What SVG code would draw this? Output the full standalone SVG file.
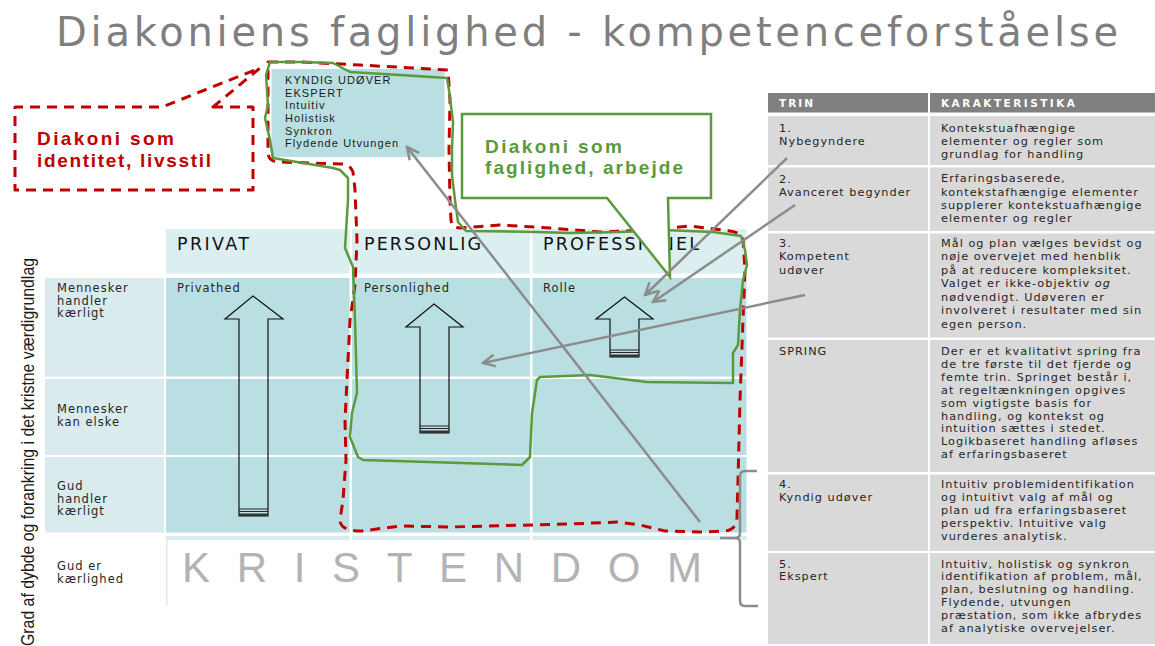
<svg xmlns="http://www.w3.org/2000/svg" width="1155" height="646" viewBox="0 0 1155 646">
<defs>
<marker id="ah" viewBox="-14 -8 16 16" refX="0" refY="0" markerWidth="16" markerHeight="16" markerUnits="userSpaceOnUse" orient="auto">
<path d="M -12,-6 L 0,0 L -12,6" fill="none" stroke="#8c8c8c" stroke-width="2.5"/>
</marker>
</defs>
<style>
.hd{fill:#dbeef0}
.bd{fill:#badfe2}
.lb{fill:#d9ebed}
.rl{font-family:"DejaVu Sans",Verdana,sans-serif;font-size:11.5px;letter-spacing:1px;fill:#262626}
.ch{font-family:"DejaVu Sans",Verdana,sans-serif;font-size:17.5px;fill:#111}
.tb{fill:#d9d9d9}
.tt{font-family:"DejaVu Sans",Verdana,sans-serif;font-size:11.3px;letter-spacing:1px;fill:#262626}
.th{font-family:"DejaVu Sans",Verdana,sans-serif;font-size:10.5px;font-weight:bold;fill:#fff}
.bx{font-family:"Liberation Sans",Arial,sans-serif;font-size:11px;letter-spacing:1.1px;fill:#1a1a1a}
.arr{fill:none;stroke:#111;stroke-width:1.2;stroke-linejoin:miter}
.stp{stroke:#222;stroke-width:1}
.red{fill:none;stroke:#c00000;stroke-width:3;stroke-dasharray:10 7;stroke-linejoin:round}
.grn{fill:none;stroke:#5a9a3c;stroke-width:2.5;stroke-linejoin:round;stroke-linecap:round}
.con{fill:none;stroke:#8c8c8c;stroke-width:2.5}
.rtx{font-family:"Liberation Sans",Arial,sans-serif;font-size:19px;font-weight:bold;fill:#c00000}
.gtx{font-family:"Liberation Sans",Arial,sans-serif;font-size:19px;font-weight:bold;fill:#5a9a3c}
</style>
<rect width="1155" height="646" fill="#fff"/>

<g id="title">
<text x="56" y="46" font-family="DejaVu Sans, Verdana, sans-serif" font-size="40" fill="#7f7f7f" textLength="1062" lengthAdjust="spacing">Diakoniens faglighed - kompetenceforståelse</text>
</g>

<g id="grid">
<rect class="hd" x="166" y="229" width="183.5" height="44.5"/>
<rect class="hd" x="352" y="229" width="178" height="44.5"/>
<rect class="hd" x="532.5" y="229" width="214" height="44.5"/>
<rect class="lb" x="45" y="278" width="119" height="98.5"/>
<rect class="lb" x="45" y="379" width="119" height="76"/>
<rect class="lb" x="45" y="457" width="119" height="75.5"/>
<rect class="bd" x="166" y="278" width="183.5" height="98.5"/>
<rect class="bd" x="352" y="278" width="178" height="98.5"/>
<rect class="bd" x="532.5" y="278" width="214" height="98.5"/>
<rect class="bd" x="166" y="379" width="183.5" height="76"/>
<rect class="bd" x="352" y="379" width="178" height="76"/>
<rect class="bd" x="532.5" y="379" width="214" height="76"/>
<rect class="bd" x="166" y="457" width="183.5" height="75.5"/>
<rect class="bd" x="352" y="457" width="178" height="75.5"/>
<rect class="bd" x="532.5" y="457" width="214" height="75.5"/>
<rect class="lb" x="166" y="536" width="183.5" height="4"/>
<rect class="lb" x="352" y="536" width="178" height="4"/>
<rect class="lb" x="532.5" y="536" width="214" height="4"/>
<rect class="lb" x="166" y="536" width="1.5" height="70"/>
</g>

<g id="headers">
<text class="ch" x="177" y="249.5" textLength="72" lengthAdjust="spacing">PRIVAT</text>
<text class="ch" x="364" y="249.5" textLength="117" lengthAdjust="spacing">PERSONLIG</text>
<text class="ch" x="543" y="249.5" textLength="156" lengthAdjust="spacing">PROFESSIONEL</text>
<text class="rl" x="177" y="292">Privathed</text>
<text class="rl" x="364" y="292">Personlighed</text>
<text class="rl" x="543" y="292">Rolle</text>
</g>

<g id="row-labels">
<text class="rl" x="57" y="292">Mennesker</text>
<text class="rl" x="57" y="304.5">handler</text>
<text class="rl" x="57" y="317">kærligt</text>
<text class="rl" x="57" y="413">Mennesker</text>
<text class="rl" x="57" y="425.5">kan elske</text>
<text class="rl" x="57" y="490">Gud</text>
<text class="rl" x="57" y="502.5">handler</text>
<text class="rl" x="57" y="515">kærligt</text>
<text class="rl" x="57" y="570">Gud er</text>
<text class="rl" x="57" y="583">kærlighed</text>
</g>

<g id="kristendom">
<text x="182" y="582" font-family="Liberation Sans, Arial, sans-serif" font-size="42" fill="#b3b3b3" textLength="520" lengthAdjust="spacing">KRISTENDOM</text>
</g>

<g id="axis-label">
<text transform="translate(34,646) rotate(-90)" x="0" y="0" font-family="Liberation Sans, Arial, sans-serif" font-size="18.5" fill="#1a1a1a" textLength="388" lengthAdjust="spacingAndGlyphs">Grad af dybde og forankring i det kristne værdigrundlag</text>
</g>

<g id="arrow-privat">
<polygon class="arr" points="253,296 283,319 268,319 268,516 239,516 239,319 225,319"/>
<line class="stp" x1="239" y1="509" x2="268" y2="509"/>
<line class="stp" x1="239" y1="511.5" x2="268" y2="511.5"/>
<rect x="239" y="513.5" width="29" height="2.5" fill="#333"/>
</g>
<g id="arrow-personlig">
<polygon class="arr" points="434,304 463,327 449,327 449,433 420,433 420,327 406,327"/>
<line class="stp" x1="420" y1="426" x2="449" y2="426"/>
<line class="stp" x1="420" y1="428.5" x2="449" y2="428.5"/>
<rect x="420" y="430.5" width="29" height="2.5" fill="#333"/>
</g>
<g id="arrow-professionel">
<polygon class="arr" points="624.5,297 653,319 639,319 639,357 610,357 610,319 596,319"/>
<line class="stp" x1="610" y1="350" x2="639" y2="350"/>
<line class="stp" x1="610" y1="352.5" x2="639" y2="352.5"/>
<rect x="610" y="354.5" width="29" height="2.5" fill="#333"/>
</g>

<g id="ekspert-box">
<rect x="271.5" y="69" width="173" height="88" fill="#badfe2"/>
<text class="bx" x="285" y="83.5">KYNDIG UDØVER</text>
<text class="bx" x="285" y="96.5">EKSPERT</text>
<text class="bx" x="285" y="109.3">Intuitiv</text>
<text class="bx" x="285" y="122">Holistisk</text>
<text class="bx" x="285" y="134.5">Synkron</text>
<text class="bx" x="285" y="147.3">Flydende Utvungen</text>
</g>

<g id="trin-table">
<rect x="768" y="93" width="160" height="19.5" fill="#808080"/>
<rect x="930" y="93" width="225" height="19.5" fill="#808080"/>
<text class="th" x="779" y="106.5" textLength="34" lengthAdjust="spacing">TRIN</text>
<text class="th" x="941" y="106.5" textLength="134" lengthAdjust="spacing">KARAKTERISTIKA</text>

<rect class="tb" x="768" y="116" width="160" height="49"/>
<rect class="tb" x="930" y="116" width="225" height="49"/>
<rect class="tb" x="768" y="167.5" width="160" height="63.5"/>
<rect class="tb" x="930" y="167.5" width="225" height="63.5"/>
<rect class="tb" x="768" y="233.5" width="160" height="104"/>
<rect class="tb" x="930" y="233.5" width="225" height="104"/>
<rect class="tb" x="768" y="340" width="160" height="132"/>
<rect class="tb" x="930" y="340" width="225" height="132"/>
<rect class="tb" x="768" y="474.5" width="160" height="76.5"/>
<rect class="tb" x="930" y="474.5" width="225" height="76.5"/>
<rect class="tb" x="768" y="553" width="160" height="91"/>
<rect class="tb" x="930" y="553" width="225" height="91"/>

<text class="tt" x="779" y="131.5">1.</text>
<text class="tt" x="779" y="144.5">Nybegyndere</text>
<text class="tt" x="941" y="131.5">Kontekstuafhængige</text>
<text class="tt" x="941" y="145">elementer og regler som</text>
<text class="tt" x="941" y="158.3">grundlag for handling</text>

<text class="tt" x="779" y="182.5">2.</text>
<text class="tt" x="779" y="195.5">Avanceret begynder</text>
<text class="tt" x="941" y="182">Erfaringsbaserede,</text>
<text class="tt" x="941" y="195.5">kontekstafhængige elementer</text>
<text class="tt" x="941" y="209">supplerer kontekstuafhængige</text>
<text class="tt" x="941" y="222.3">elementer og regler</text>

<text class="tt" x="779" y="246.7">3.</text>
<text class="tt" x="779" y="260">Kompetent</text>
<text class="tt" x="779" y="273.5">udøver</text>
<text class="tt" x="941" y="246.7">Mål og plan vælges bevidst og</text>
<text class="tt" x="941" y="260">nøje overvejet med henblik</text>
<text class="tt" x="941" y="273.5">på at reducere kompleksitet.</text>
<text class="tt" x="941" y="287">Valget er ikke-objektiv <tspan font-style="italic">og</tspan></text>
<text class="tt" x="941" y="300.5">nødvendigt. Udøveren er</text>
<text class="tt" x="941" y="314">involveret i resultater med sin</text>
<text class="tt" x="941" y="327.5">egen person.</text>

<text class="tt" x="779" y="355">SPRING</text>
<text class="tt" x="941" y="355">Der er et kvalitativt spring fra</text>
<text class="tt" x="941" y="368">de tre første til det fjerde og</text>
<text class="tt" x="941" y="381">femte trin. Springet består i,</text>
<text class="tt" x="941" y="393.5">at regeltænkningen opgives</text>
<text class="tt" x="941" y="406.5">som vigtigste basis for</text>
<text class="tt" x="941" y="419.5">handling, og kontekst og</text>
<text class="tt" x="941" y="432">intuition sættes i stedet.</text>
<text class="tt" x="941" y="445">Logikbaseret handling afløses</text>
<text class="tt" x="941" y="457.5">af erfaringsbaseret</text>

<text class="tt" x="779" y="487.5">4.</text>
<text class="tt" x="779" y="500.5">Kyndig udøver</text>
<text class="tt" x="941" y="487.5">Intuitiv problemidentifikation</text>
<text class="tt" x="941" y="500.5">og intuitivt valg af mål og</text>
<text class="tt" x="941" y="513.5">plan ud fra erfaringsbaseret</text>
<text class="tt" x="941" y="526.5">perspektiv. Intuitive valg</text>
<text class="tt" x="941" y="539.5">vurderes analytisk.</text>

<text class="tt" x="779" y="567.5">5.</text>
<text class="tt" x="779" y="580">Ekspert</text>
<text class="tt" x="941" y="567.5">Intuitiv, holistisk og synkron</text>
<text class="tt" x="941" y="580">identifikation af problem, mål,</text>
<text class="tt" x="941" y="593">plan, beslutning og handling.</text>
<text class="tt" x="941" y="606">Flydende, utvungen</text>
<text class="tt" x="941" y="618.5">præstation, som ikke afbrydes</text>
<text class="tt" x="941" y="631.5">af analytiske overvejelser.</text>
</g>

<g id="red-outline">
<path class="red" d="M 268,62 L 300,62 L 360,65 L 448,70 L 450,100 L 449,150 L 450,200 L 451,220 Q 452,228 460,228 L 500,225 L 550,228 L 600,232 L 650,230 L 690,226 L 730,231 Q 742,233 743,240 L 745,270 L 743,320 L 740,400 L 738,480 L 737,518 Q 736,530 725,531 L 700,532 L 665,531 L 640,525 L 617,522 L 570,524 L 450,527 L 400,526 L 362,531 Q 340,531 340,520 L 343,500 L 346,460 L 345,420 L 347,380 L 350,320 L 355,285 L 357,240 L 355,190 L 353,172 Q 350,164 342,164 L 280,162 Q 268,162 268,152 Z"/>
</g>

<g id="green-outline">
<path class="grn" d="M 270,62 L 300,62 L 333,63 L 350,72 L 400,75 L 447,78 L 449,90 L 453,122 L 452,150 L 452,175 L 455,200 L 458,222 L 466,231 L 537,232 L 570,233 L 620,232 L 663,230 L 713,232 L 741,236 L 745,250 L 747,265 L 743,280 L 740,310 L 738,345 L 733,353 L 733,383 L 647,382 L 590,375 L 540,377 L 537,380 L 532,413 L 530,457 L 522,465 L 363,460 L 358,457 L 350,437 L 352,413 L 357,393 L 355,320 L 353,267 L 345,248 L 348,200 L 348,178 L 340,170 L 333,168 L 273,158 L 270,140 L 265,118 L 268,105 L 266,75 Z"/>
</g>

<g id="callout-identitet">
<path class="red" fill="#fff" d="M 213,107 L 253,107 L 253,190 L 15,190 L 15,107 L 162,107 L 260,68 Z"/>
<text class="rtx" x="37" y="145" textLength="137" lengthAdjust="spacing">Diakoni som</text>
<text class="rtx" x="37" y="167" textLength="174" lengthAdjust="spacing">identitet, livsstil</text>
</g>

<g id="callout-faglighed">
<path d="M 607,198 L 462,198 L 462,114 L 711,114 L 711,198 L 668,198 L 670,277 Z" fill="#fff" stroke="#5a9a3c" stroke-width="2.5" stroke-linejoin="miter"/>
<text class="gtx" x="485" y="153" textLength="137" lengthAdjust="spacing">Diakoni som</text>
<text class="gtx" x="485" y="174" textLength="198" lengthAdjust="spacing">faglighed, arbejde</text>
</g>

<g id="connectors">
<line class="con" x1="787" y1="158" x2="645" y2="295" marker-end="url(#ah)"/>
<line class="con" x1="795" y1="205" x2="653" y2="302" marker-end="url(#ah)"/>
<line class="con" x1="805" y1="295" x2="483" y2="363" marker-end="url(#ah)"/>
<line class="con" x1="700" y1="522" x2="407" y2="147" marker-end="url(#ah)"/>
<path class="con" d="M 757,471 L 745,471 Q 740,471 740,476 L 740,533 Q 740,538 735,538 L 720,538 M 735,538 Q 740,538 740,543 L 740,601 Q 740,606 745,606 L 758,606"/>
</g>
</svg>
